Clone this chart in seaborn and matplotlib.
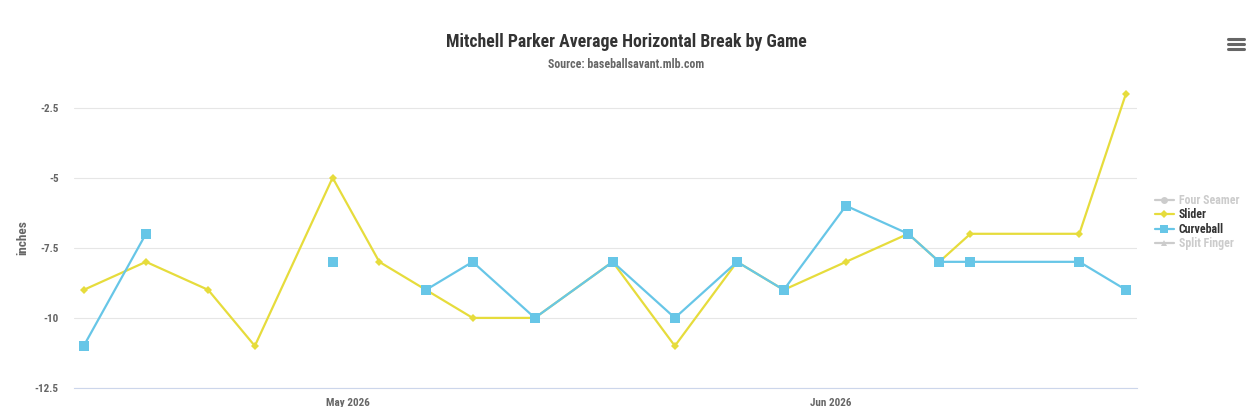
import matplotlib
matplotlib.use('Agg')
import matplotlib.pyplot as plt
import matplotlib.dates as mdates
from matplotlib.lines import Line2D
import seaborn as sns
import numpy as np
import pandas as pd

# game dates and average horizontal break (inches) per pitch type
game_dates = ['2026-04-14', '2026-04-18', '2026-04-22', '2026-04-25', '2026-04-30',
              '2026-05-03', '2026-05-06', '2026-05-09', '2026-05-13', '2026-05-18',
              '2026-05-22', '2026-05-26', '2026-05-29', '2026-06-02', '2026-06-06',
              '2026-06-08', '2026-06-10', '2026-06-17', '2026-06-20']
slider = [-9, -8, -9, -11, -5, -8, -9, -10, -10, -8, -11, -8, -9, -8, -7, -8, -7, -7, -2]
curveball = [-11, -7, np.nan, np.nan, -8, np.nan, -9, -8, -10, -8, -10, -8, -9, -6, -7,
             -8, -8, -8, -9]
legend_names = ['Four Seamer', 'Slider', 'Curveball', 'Split Finger']
y_ticks = [-2.5, -5, -7.5, -10, -12.5]

sns.set_theme(style='white')
plt.rcParams['font.family'] = ['Roboto Condensed', 'Roboto', 'DejaVu Sans']

YELLOW = '#e6dc3c'
BLUE = '#67c6e7'
GREY = '#cccccc'


def segments(values):
    # split a series at missing games so the line breaks there (like highcharts nulls)
    df = pd.DataFrame({'date': pd.to_datetime(game_dates), 'value': values})
    df['seg'] = df['value'].isna().cumsum()
    return df.dropna()


fig = plt.figure(figsize=(12.52, 4.07), dpi=100)
ax = fig.add_axes([74 / 1252, 1 - 388 / 407, (1137 - 74) / 1252, 300 / 407])

sl = segments(slider)
sns.lineplot(data=sl, x='date', y='value', units='seg', estimator=None, ax=ax,
             color=YELLOW, lw=1.6, marker='D', markersize=4.5, markeredgewidth=0)
cu = segments(curveball)
sns.lineplot(data=cu, x='date', y='value', units='seg', estimator=None, ax=ax,
             color=BLUE, lw=1.6, marker='s', markersize=6.5, markeredgewidth=0)

ax.set_ylim(-12.5, -1.8)
ax.set_yticks(y_ticks)
ax.set_yticklabels([f'{t:g}' for t in y_ticks])
ax.set_xlim(pd.Timestamp('2026-04-14') - pd.Timedelta(hours=15),
            pd.Timestamp('2026-06-20') + pd.Timedelta(hours=17))
ax.xaxis.set_major_locator(mdates.MonthLocator())
ax.xaxis.set_major_formatter(mdates.DateFormatter('%b %Y'))

ax.grid(axis='y', color='#e6e6e6', lw=0.8)
ax.grid(axis='x', visible=False)
for s in ['top', 'right', 'left']:
    ax.spines[s].set_visible(False)
ax.spines['bottom'].set_color('#ccd6eb')
ax.spines['bottom'].set_linewidth(0.8)
ax.tick_params(axis='x', length=6, width=0.8, color='#ccd6eb', pad=1,
               labelsize=8, labelcolor='#666666')
ax.tick_params(axis='y', length=0, pad=11, labelsize=8, labelcolor='#666666')
for lab in ax.get_xticklabels() + ax.get_yticklabels():
    lab.set_fontweight('bold')
ax.set_xlabel('')
ax.set_ylabel('inches', fontsize=9.5, fontweight='bold', color='#666666', labelpad=4)

fig.text(0.5, 1 - 42 / 407, 'Mitchell Parker Average Horizontal Break by Game',
         ha='center', va='center', fontsize=12.8, fontweight='bold', color='#333333')
fig.text(0.5, 1 - 64 / 407, 'Source: baseballsavant.mlb.com',
         ha='center', va='center', fontsize=8.6, fontweight='bold', color='#666666')

handles = [
    Line2D([], [], color=GREY, lw=1.6, marker='o', markersize=5, markeredgewidth=0),
    Line2D([], [], color=YELLOW, lw=1.6, marker='D', markersize=4.5, markeredgewidth=0),
    Line2D([], [], color=BLUE, lw=1.6, marker='s', markersize=6, markeredgewidth=0),
    Line2D([], [], color=GREY, lw=1.6, marker='^', markersize=5, markeredgewidth=0),
]
leg = fig.legend(handles, legend_names, loc='center left',
                 bbox_to_anchor=(1144 / 1252, 1 - 222 / 407), frameon=False,
                 handlelength=1.6, handletextpad=0.4, labelspacing=0.12,
                 prop={'size': 8.6, 'weight': 'bold'})
for txt, c in zip(leg.get_texts(), [GREY, '#333333', '#333333', GREY]):
    txt.set_color(c)

# export menu icon (three bars)
for yy in [39, 44, 49]:
    fig.add_artist(Line2D([1228 / 1252, 1244 / 1252], [1 - yy / 407] * 2,
                          color='#666666', lw=2.2, solid_capstyle='round'))

fig.savefig('out.png', dpi=100)
